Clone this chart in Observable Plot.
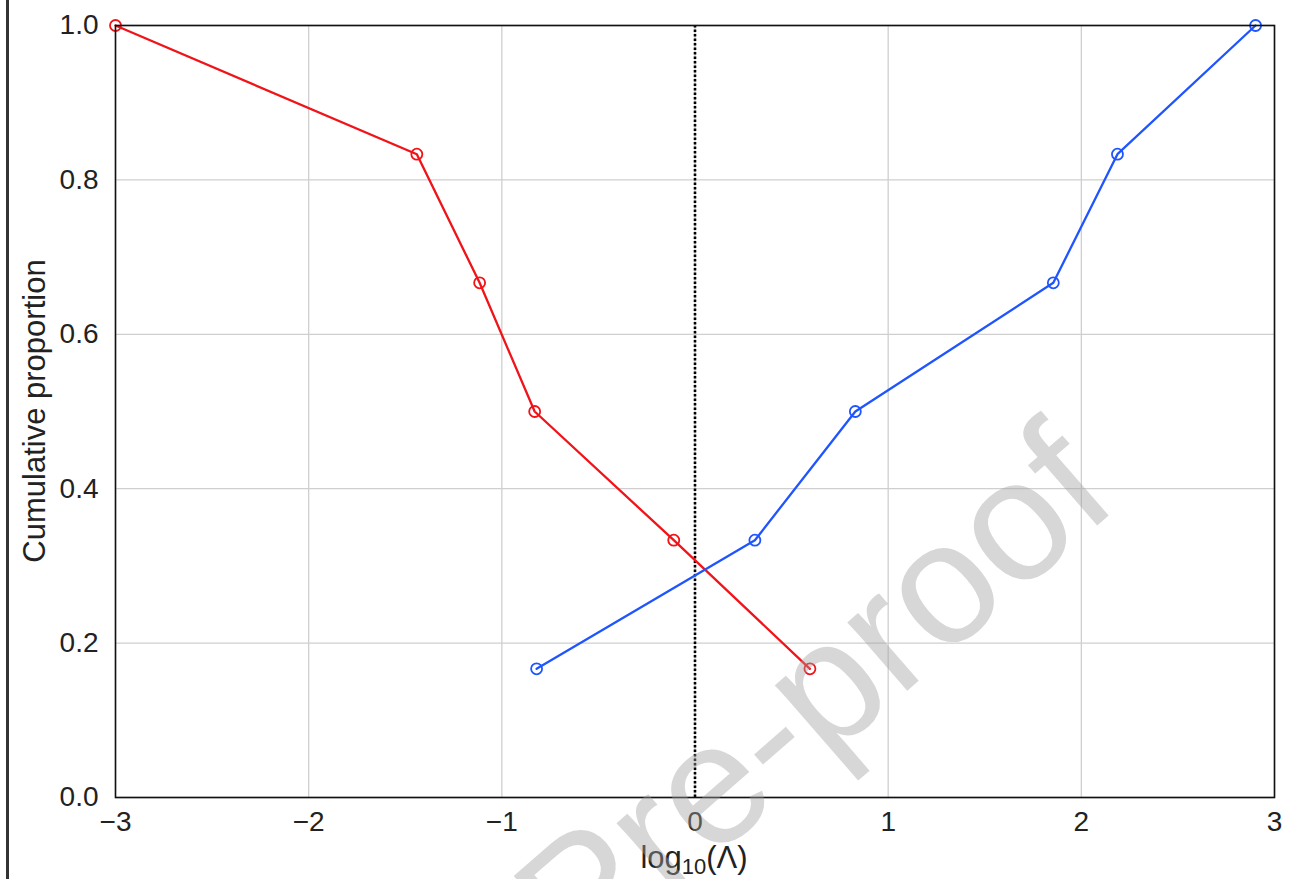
<!DOCTYPE html>
<html><head><meta charset="utf-8">
<script src="https://cdn.jsdelivr.net/npm/d3@7"></script>
<script src="https://cdn.jsdelivr.net/npm/@observablehq/plot@0.6"></script>
<style>
html,body{margin:0;padding:0;background:#fff;}
#wrap{position:relative;width:1298px;height:879px;overflow:hidden;}
#edge{position:absolute;left:6px;top:0;width:3px;height:879px;background:#333;}
#wm{position:absolute;left:812px;top:694px;font:172px "Liberation Sans",Arial,sans-serif;color:rgba(160,160,160,0.42);transform:translate(-50%,-50%) rotate(-41deg);white-space:nowrap;pointer-events:none;line-height:1;}
</style></head>
<body>
<div id="wrap"><div id="edge"></div><div id="chart"></div><div id="wm">Pre-proof</div></div>
<script>
const redX = [-3.0, -1.44, -1.115, -0.83, -0.11, 0.595];
const redY = [1.0, 0.8333, 0.6667, 0.5, 0.3333, 0.1667];
const blueX = [-0.82, 0.31, 0.83, 1.855, 2.187, 2.902];
const blueY = [0.1667, 0.3333, 0.5, 0.6667, 0.8333, 1.0];
const xTicks = [-3, -2, -1, 0, 1, 2, 3];
const yTicks = [0.0, 0.2, 0.4, 0.6, 0.8, 1.0];
const refX = [0];

const red = redX.map((x, i) => ({x, y: redY[i]}));
const blue = blueX.map((x, i) => ({x, y: blueY[i]}));
const RED = "#f01318", BLUE = "#1f55ff";

const chart = Plot.plot({
  width: 1298, height: 879,
  marginLeft: 115, marginRight: 24, marginTop: 25, marginBottom: 82,
  style: {fontFamily: "'Liberation Sans', Arial, sans-serif", fontSize: "28px", color: "#222", background: "transparent"},
  x: {domain: [-3, 3]},
  y: {domain: [0, 1]},
  marks: [
    Plot.gridX(xTicks, {stroke: "#cfcfcf", strokeOpacity: 1, strokeWidth: 1.3}),
    Plot.gridY(yTicks, {stroke: "#cfcfcf", strokeOpacity: 1, strokeWidth: 1.3}),
    Plot.ruleX(refX, {stroke: "#000", strokeWidth: 2.6, strokeDasharray: "2.5,2"}),
    Plot.line(red, {x: "x", y: "y", stroke: RED, strokeWidth: 2.3}),
    Plot.dot(red, {x: "x", y: "y", r: 5.5, stroke: RED, fill: "none", strokeWidth: 1.8}),
    Plot.line(blue, {x: "x", y: "y", stroke: BLUE, strokeWidth: 2.3}),
    Plot.dot(blue, {x: "x", y: "y", r: 5.5, stroke: BLUE, fill: "none", strokeWidth: 1.8}),
    Plot.frame({stroke: "#111", strokeWidth: 1.6}),
    Plot.axisX(xTicks, {tickSize: 0, tickPadding: 14, label: null, fontSize: 28,
      tickFormat: d => d < 0 ? "\u2212" + Math.abs(d) : String(d)}),
    Plot.axisY(yTicks, {tickSize: 0, tickPadding: 17, label: null, fontSize: 28,
      tickFormat: d => d.toFixed(1)})
  ]
});
document.getElementById("chart").appendChild(chart);

const svg = d3.select(chart);
svg.selectAll("g[aria-label*='tick label']").attr("font-size", 28).style("font-size", "28px");
svg.selectAll("g[aria-label*='tick label'] text").style("font-size", "28px");
// x label with subscript
const xl = svg.append("text")
  .attr("x", 694).attr("y", 868)
  .attr("text-anchor", "middle")
  .attr("font-family", "'Liberation Sans', Arial, sans-serif")
  .attr("font-size", 31).attr("fill", "#222");
xl.append("tspan").text("log");
xl.append("tspan").attr("font-size", 22).attr("dy", 6).text("10");
xl.append("tspan").attr("dy", -6).text("(\u039B)");
// y label
svg.append("text")
  .attr("transform", "translate(45,411) rotate(-90)")
  .attr("text-anchor", "middle")
  .attr("font-family", "'Liberation Sans', Arial, sans-serif")
  .attr("font-size", 31).attr("fill", "#222")
  .text("Cumulative proportion");
</script>
</body></html>
